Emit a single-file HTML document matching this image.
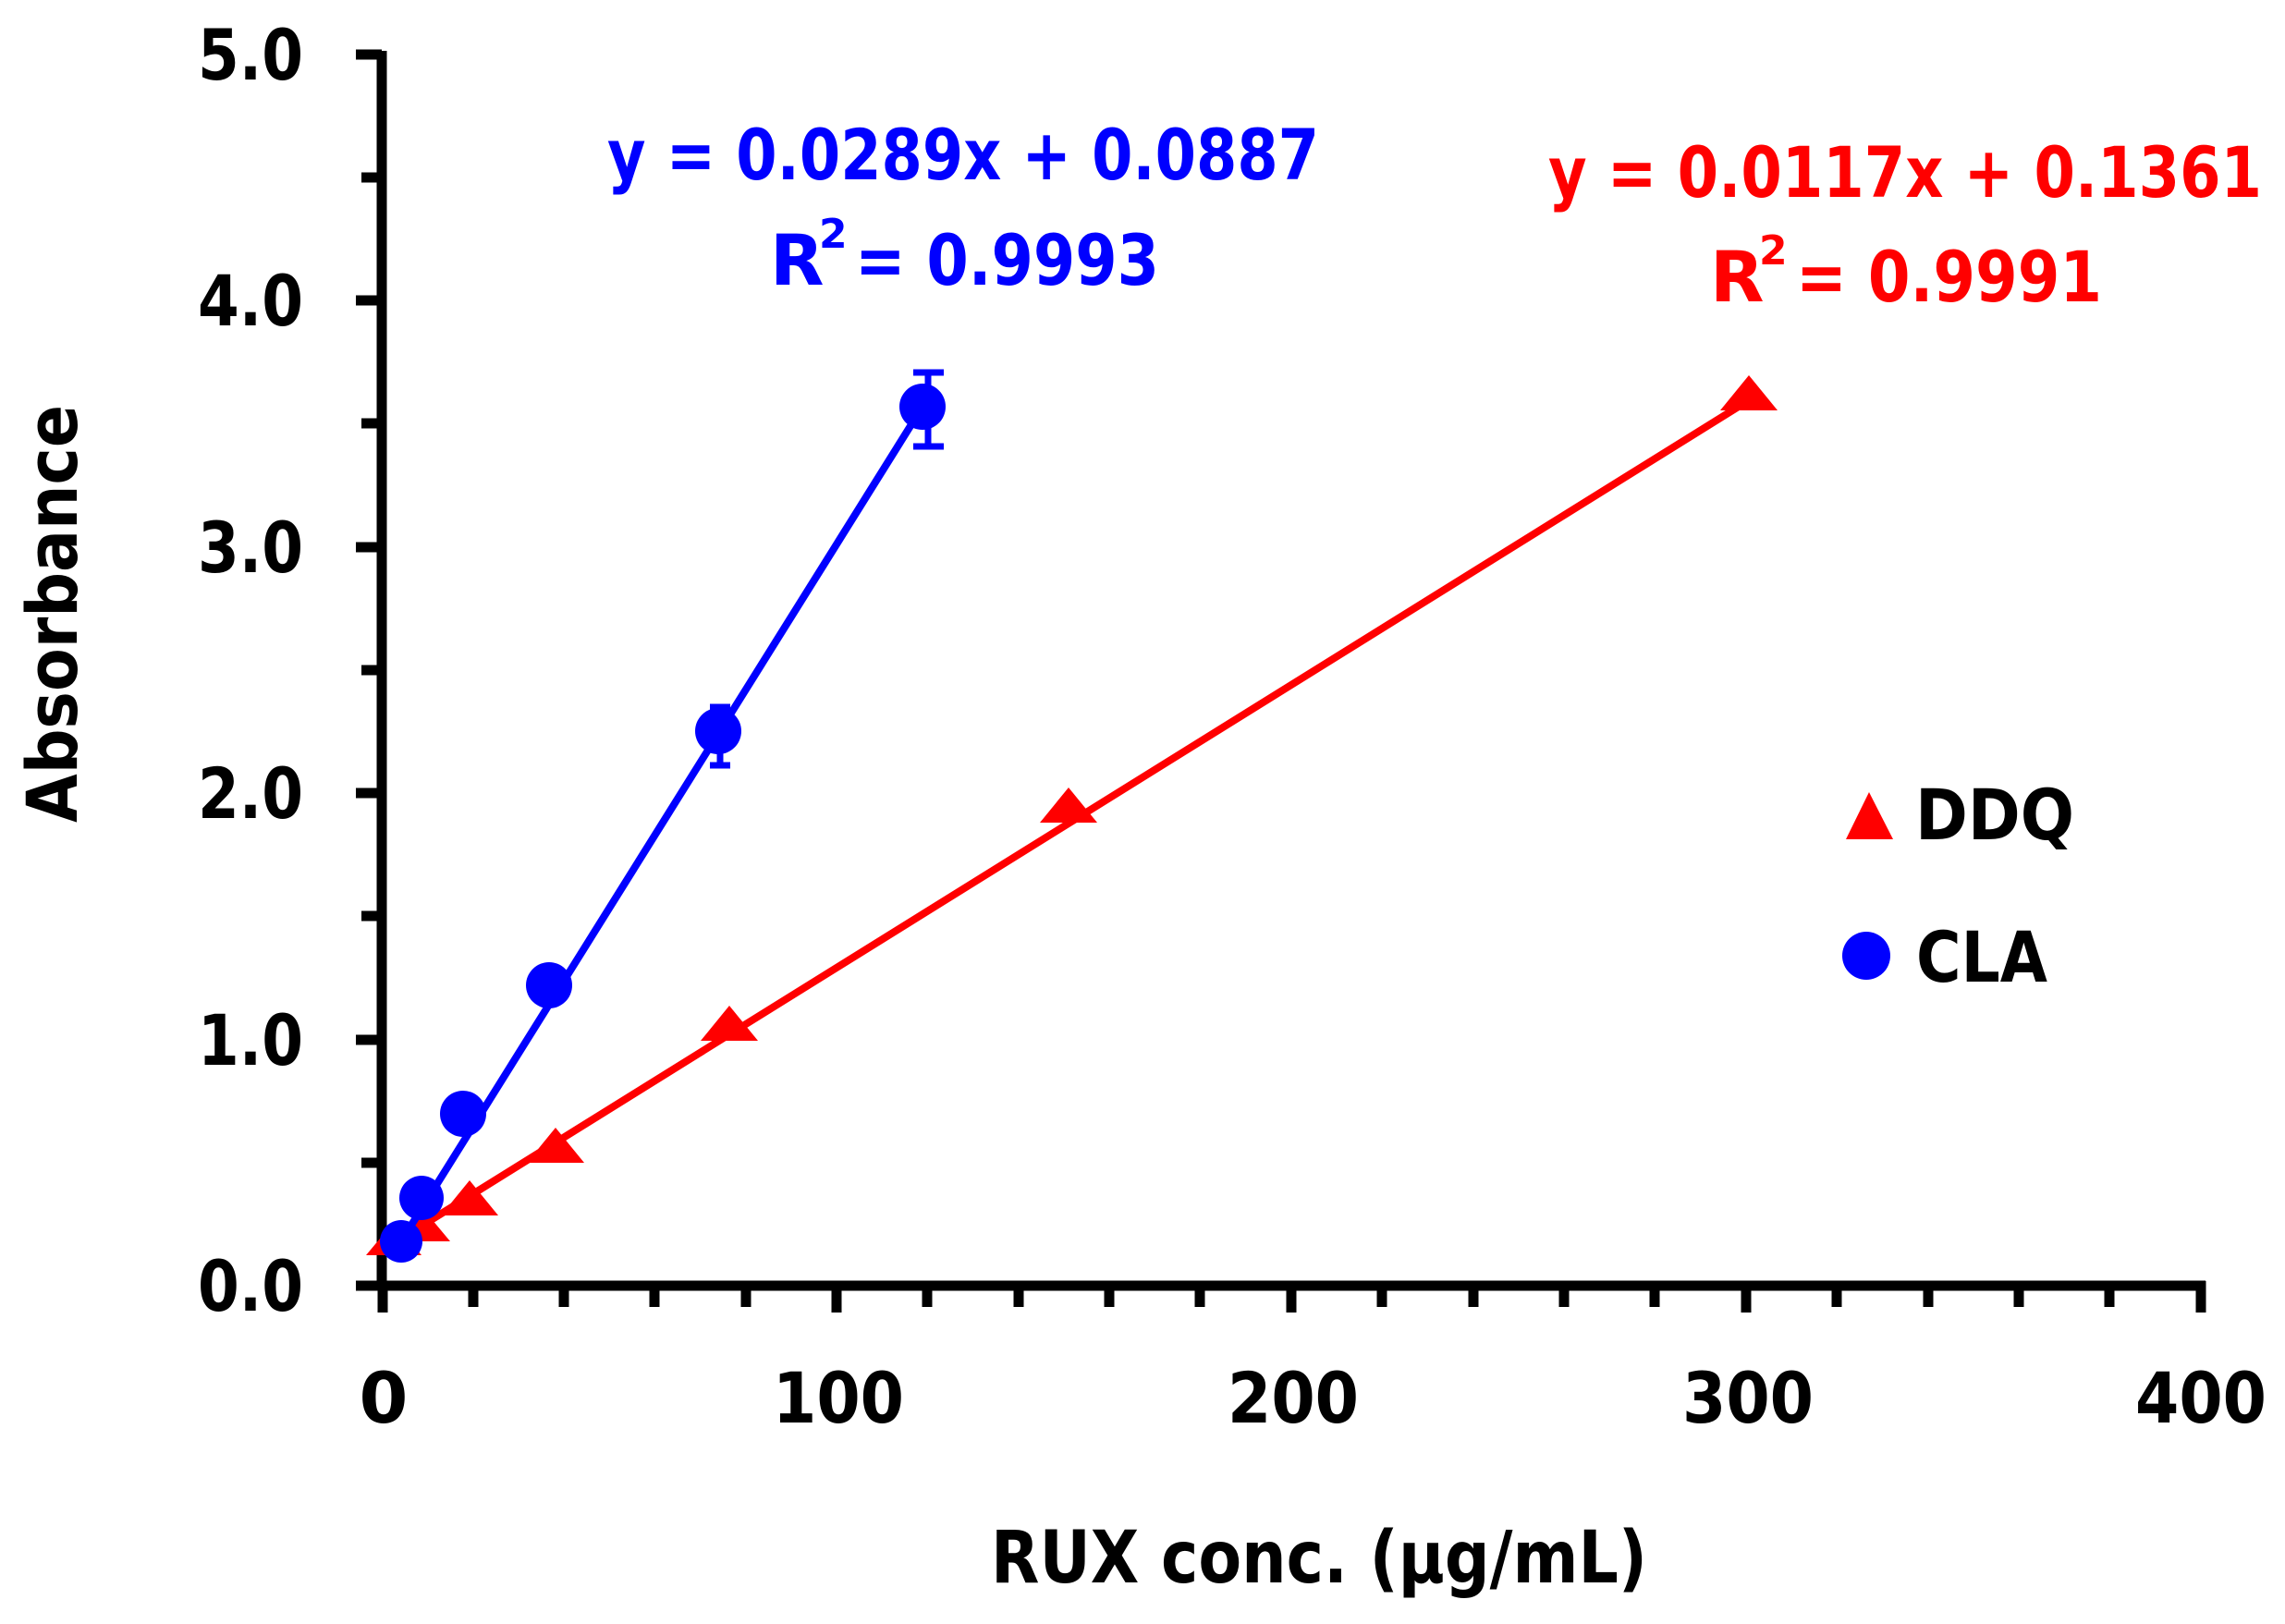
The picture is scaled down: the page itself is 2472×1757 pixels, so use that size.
<!DOCTYPE html>
<html><head><meta charset="utf-8"><style>
html,body{margin:0;padding:0;background:#fff;}
svg{display:block;}
text{font-family:"DejaVu Sans","Liberation Sans",sans-serif;font-weight:bold;}
</style></head><body>
<svg width="2472" height="1757" viewBox="0 0 2472 1757" xmlns="http://www.w3.org/2000/svg">
<rect width="2472" height="1757" fill="#fff"/>
<g stroke="#000" stroke-width="11" fill="none">
<line x1="413" y1="55" x2="413" y2="1396"/>
<line x1="385" y1="1391" x2="2386" y2="1391"/>
<line x1="385" y1="59" x2="413" y2="59"/>
<line x1="385" y1="325" x2="413" y2="325"/>
<line x1="385" y1="592" x2="413" y2="592"/>
<line x1="385" y1="858" x2="413" y2="858"/>
<line x1="385" y1="1125" x2="413" y2="1125"/>
<line x1="391" y1="192" x2="413" y2="192"/>
<line x1="391" y1="458" x2="413" y2="458"/>
<line x1="391" y1="725" x2="413" y2="725"/>
<line x1="391" y1="991" x2="413" y2="991"/>
<line x1="391" y1="1258" x2="413" y2="1258"/>
<line x1="414" y1="1391" x2="414" y2="1420"/>
<line x1="905" y1="1391" x2="905" y2="1420"/>
<line x1="1397" y1="1391" x2="1397" y2="1420"/>
<line x1="1889" y1="1391" x2="1889" y2="1420"/>
<line x1="2381" y1="1386" x2="2381" y2="1420"/>
<line x1="512" y1="1391" x2="512" y2="1414"/>
<line x1="610" y1="1391" x2="610" y2="1414"/>
<line x1="708" y1="1391" x2="708" y2="1414"/>
<line x1="807" y1="1391" x2="807" y2="1414"/>
<line x1="1003" y1="1391" x2="1003" y2="1414"/>
<line x1="1102" y1="1391" x2="1102" y2="1414"/>
<line x1="1200" y1="1391" x2="1200" y2="1414"/>
<line x1="1298" y1="1391" x2="1298" y2="1414"/>
<line x1="1495" y1="1391" x2="1495" y2="1414"/>
<line x1="1594" y1="1391" x2="1594" y2="1414"/>
<line x1="1692" y1="1391" x2="1692" y2="1414"/>
<line x1="1790" y1="1391" x2="1790" y2="1414"/>
<line x1="1987" y1="1391" x2="1987" y2="1414"/>
<line x1="2086" y1="1391" x2="2086" y2="1414"/>
<line x1="2184" y1="1391" x2="2184" y2="1414"/>
<line x1="2282" y1="1391" x2="2282" y2="1414"/>
</g>
<g font-size="76" text-anchor="end" fill="#000">
<text x="328" y="86" textLength="114" lengthAdjust="spacingAndGlyphs">5.0</text>
<text x="328" y="352" textLength="114" lengthAdjust="spacingAndGlyphs">4.0</text>
<text x="328" y="619" textLength="114" lengthAdjust="spacingAndGlyphs">3.0</text>
<text x="328" y="885" textLength="114" lengthAdjust="spacingAndGlyphs">2.0</text>
<text x="328" y="1152" textLength="114" lengthAdjust="spacingAndGlyphs">1.0</text>
<text x="328" y="1418" textLength="114" lengthAdjust="spacingAndGlyphs">0.0</text>
</g>
<g font-size="76" text-anchor="middle" fill="#000">
<text x="415" y="1539">0</text>
<text x="907" y="1539" textLength="142" lengthAdjust="spacingAndGlyphs">100</text>
<text x="1399" y="1539" textLength="142" lengthAdjust="spacingAndGlyphs">200</text>
<text x="1891" y="1539" textLength="142" lengthAdjust="spacingAndGlyphs">300</text>
<text x="2381" y="1539" textLength="142" lengthAdjust="spacingAndGlyphs">400</text>
</g>
<text x="1072" y="1712" font-size="78" textLength="710" lengthAdjust="spacingAndGlyphs" fill="#000">RUX conc. (µg/mL)</text>
<text transform="translate(83,664) rotate(-90)" x="0" y="0" font-size="76" text-anchor="middle" textLength="452" lengthAdjust="spacingAndGlyphs" fill="#000">Absorbance</text>

<line x1="426" y1="1345" x2="1892" y2="433" stroke="#f00" stroke-width="8"/>
<g fill="#f00">
<polygon points="426,1322 396,1358 456,1358"/>
<polygon points="457,1307 427,1343 487,1343"/>
<polygon points="508,1277 477,1315 539,1315"/>
<polygon points="601,1220 570,1258 632,1258"/>
<polygon points="789,1088 758,1126 820,1126"/>
<polygon points="1156,852 1125,890 1187,890"/>
<polygon points="1892,406 1861,444 1923,444"/>
</g>
<line x1="434" y1="1343" x2="998" y2="440" stroke="#00f" stroke-width="8"/>
<g fill="#00f">
<circle cx="434" cy="1343" r="23"/>
<circle cx="456" cy="1296" r="24"/>
<circle cx="501" cy="1205" r="25"/>
<circle cx="594" cy="1066" r="25"/>
<circle cx="777" cy="791" r="25"/>
<circle cx="998" cy="440" r="25"/>
</g>
<g stroke="#00f" stroke-width="7">
<line x1="779" y1="765" x2="779" y2="828"/>
<line x1="768" y1="765" x2="790" y2="765"/>
<line x1="768" y1="828" x2="790" y2="828"/>
<line x1="1004" y1="403" x2="1004" y2="483"/>
<line x1="988" y1="403" x2="1021" y2="403"/>
<line x1="988" y1="483" x2="1021" y2="483"/>
</g>

<g font-size="76" fill="#00f">
<text x="657" y="194" textLength="770" lengthAdjust="spacingAndGlyphs">y = 0.0289x + 0.0887</text>
<text x="833" y="308">R</text>
<text x="886" y="268" font-size="44">2</text>
<text x="925" y="308" textLength="329" lengthAdjust="spacingAndGlyphs">= 0.9993</text>
</g>
<g font-size="76" fill="#f00">
<text x="1675" y="213" textLength="772" lengthAdjust="spacingAndGlyphs">y = 0.0117x + 0.1361</text>
<text x="1850" y="326">R</text>
<text x="1903" y="286" font-size="44">2</text>
<text x="1943" y="326" textLength="331" lengthAdjust="spacingAndGlyphs">= 0.9991</text>
</g>

<polygon points="2022,857 1997,908 2048,908" fill="#f00"/>
<text x="2072" y="908" font-size="76" textLength="172" lengthAdjust="spacingAndGlyphs" fill="#000">DDQ</text>
<circle cx="2019" cy="1034" r="26" fill="#00f"/>
<text x="2073" y="1062" font-size="76" textLength="142" lengthAdjust="spacingAndGlyphs" fill="#000">CLA</text>
</svg>
</body></html>
